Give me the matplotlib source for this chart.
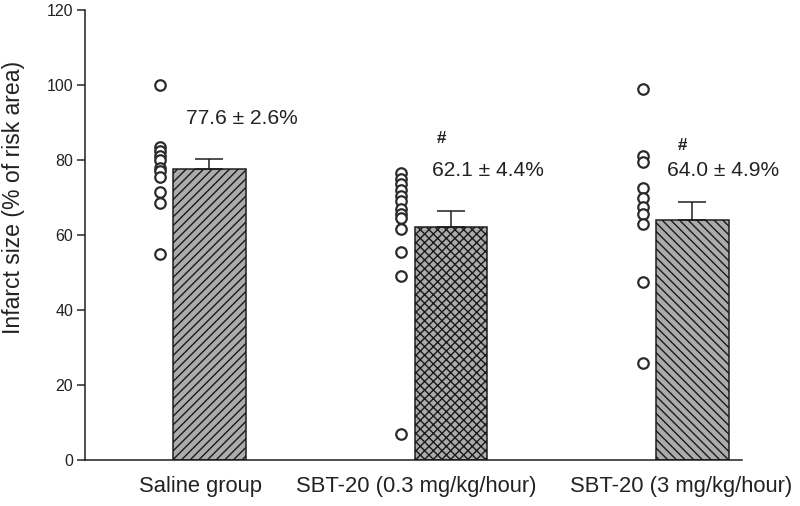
import numpy as np
import matplotlib.pyplot as plt

# data
groups = ['Saline group', 'SBT-20 (0.3 mg/kg/hour)', 'SBT-20 (3 mg/kg/hour)']
means = [77.6, 62.1, 64.0]
sems = [2.6, 4.4, 4.9]
saline_pts = [100, 83.5, 82.5, 81, 80, 78, 77, 75.5, 71.5, 68.5, 55]
low_dose_pts = [76.5, 75, 73.5, 72, 70.5, 69, 67, 65.5, 64.5, 61.5, 55.5, 49, 7]
high_dose_pts = [99, 81, 79.5, 72.5, 70, 67.5, 65.5, 63, 47.5, 26]
labels = ['77.6 \u00b1 2.6%', '62.1 \u00b1 4.4%', '64.0 \u00b1 4.9%']
marks = ['', '#', '#']

DPI = 156
pt = 72 / DPI  # points per pixel

plt.rcParams['font.family'] = ['Liberation Sans', 'DejaVu Sans']
plt.rcParams['hatch.linewidth'] = 1.4 * pt
plt.rcParams['hatch.color'] = '#1a1a1a'

fig = plt.figure(figsize=(800 / DPI, 506 / DPI), dpi=DPI)
ax = fig.add_axes([0.10625, 0.0909, 0.82125, 0.8893])

x = np.arange(1, 4)
bars = ax.bar(x, means, width=0.30, color='#ababab', edgecolor='#1a1a1a',
              linewidth=1.5 * pt, zorder=2)
for b, h in zip(bars, ['//////', 'xxxxxx', '\\\\\\\\\\\\']):
    b.set_hatch(h)
ax.errorbar(x, means, yerr=[np.zeros(3), sems], fmt='none', ecolor='#1a1a1a',
            elinewidth=1.5 * pt, capsize=14 * pt, capthick=1.5 * pt, zorder=3)

for xi, pts in zip(x, [saline_pts, low_dose_pts, high_dose_pts]):
    ax.plot(np.full(len(pts), xi - 0.207), pts, 'o', mfc='white', mec='#2a2a2a',
            ms=10.5 * pt, mew=2.2 * pt, zorder=4)

# annotations
ax.text(0.904, 91.2, labels[0], fontsize=21 * pt, color='#222222', va='center')
ax.text(1.942, 85.8, marks[1], fontsize=17 * pt, color='#222222', va='center', fontweight='bold')
ax.text(1.921, 77.3, labels[1], fontsize=21 * pt, color='#222222', va='center')
ax.text(2.937, 84.0, marks[2], fontsize=17 * pt, color='#222222', va='center', fontweight='bold')
ax.text(2.896, 77.3, labels[2], fontsize=21 * pt, color='#222222', va='center')

ax.set_xlim(0.4845, 3.205)
ax.set_ylim(0, 120)
ax.set_yticks(range(0, 121, 20))
ax.tick_params(axis='y', labelsize=16 * pt, length=8 * pt, width=1.5 * pt,
               pad=4 * pt, colors='#222222')
ax.set_xticks([0.961, 1.857, 2.952])
ax.set_xticklabels(groups)
ax.tick_params(axis='x', labelsize=22 * pt, length=0, pad=16 * pt, colors='#222222')

ax.set_ylabel('Infarct size (% of risk area)', fontsize=23 * pt, color='#222222')
ax.yaxis.set_label_coords(-0.0915, 0.584)

for side in ['top', 'right']:
    ax.spines[side].set_visible(False)
for side in ['left', 'bottom']:
    ax.spines[side].set_linewidth(1.5 * pt)
    ax.spines[side].set_color('#1a1a1a')

fig.savefig('out.png', dpi=DPI)
